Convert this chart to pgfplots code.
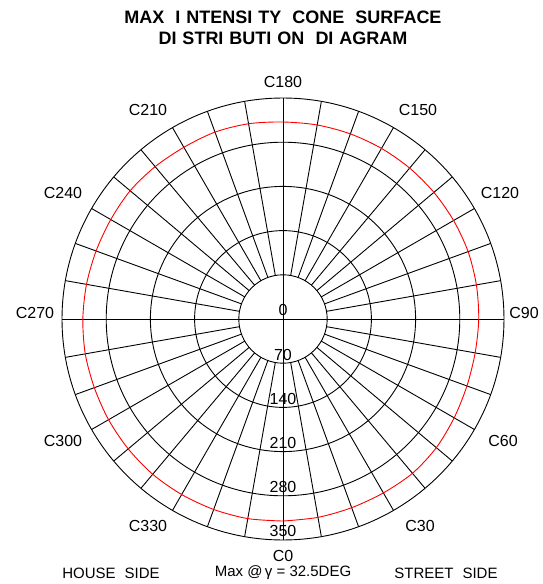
\documentclass[border=0pt]{standalone}
\usepackage{pgfplots}
\pgfplotsset{compat=1.18}
\usepackage{pgfplotstable}
\usepackage{fontspec}
\setmainfont{Liberation Sans}

\pgfplotstableread{
C r
0 320
10 319
20 318
30 318
40 319
50 317
60 313
70 310
80 309
90 310
100 311
110 312
120 312
130 312
140 312
150 312
160 312
170 312
180 312
190 314
200 315
210 314
220 315
230 316
240 315
250 315
260 316
270 317
280 318
290 318
300 319
310 320
320 321
330 321
340 321
350 321
360 320
}\conedata

\begin{document}
\begin{tikzpicture}
\useasboundingbox (-283pt,-265pt) rectangle (259pt,319pt);
\begin{axis}[
  hide axis, clip=false,
  x=0.6314pt, y=0.6314pt,
  xmin=-350, xmax=350, ymin=-350, ymax=350,
  anchor=origin, at={(0pt,0pt)},
]
% rings
\pgfplotsinvokeforeach{70,140,210,280,350}{
  \draw[line width=0.9pt] (axis cs:0,0) circle[radius=#1];
}
% spokes
\pgfplotsinvokeforeach{10,20,...,80,100,110,...,170,190,200,...,260,280,290,...,350}{
  \draw[line width=0.9pt] (axis cs:{70*cos(#1)},{70*sin(#1)}) -- (axis cs:{350*cos(#1)},{350*sin(#1)});
}
\draw[line width=0.9pt] (axis cs:-350,0) -- (axis cs:350,0);
\draw[line width=0.9pt] (axis cs:0,-350) -- (axis cs:0,350);
% red curve
\addplot[red, line width=0.9pt, no marks, smooth, data cs=polar] table[x expr=\thisrow{C}-90, y=r] {\conedata};
% ring labels
\pgfplotsinvokeforeach{0,70,140,210,280,350}{
  \node[font=\fontsize{16}{19}\selectfont, inner sep=0pt] at (axis cs:0,{-#1+13.5}) {#1};
}
\end{axis}
% angle labels
\begin{scope}[every node/.style={font=\fontsize{16}{19}\selectfont, inner sep=0pt}]
\node at (0pt,-237pt) {C0};
\node at (137pt,-207pt) {C30};
\node at (220pt,-122pt) {C60};
\node at (241pt,6pt) {C90};
\node at (217pt,126pt) {C120};
\node at (135pt,209pt) {C150};
\node at (0pt,237pt) {C180};
\node at (-135pt,209pt) {C210};
\node at (-220pt,126pt) {C240};
\node at (-248pt,6pt) {C270};
\node at (-220pt,-122pt) {C300};
\node at (-135pt,-207pt) {C330};
\end{scope}
% title
\node[font=\bfseries\fontsize{18}{21}\selectfont, inner sep=0pt] at (0pt,302pt) {MAX\hspace{11pt}I\hspace{6pt}NTENSI\hspace{6pt}TY\hspace{11pt}CONE\hspace{11pt}SURFACE};
\node[font=\bfseries\fontsize{18}{21}\selectfont, inner sep=0pt] at (0pt,281pt) {DI\hspace{6pt}STRI\hspace{6pt}BUTI\hspace{6pt}ON\hspace{11pt}DI\hspace{6pt}AGRAM};
% footer
\begin{scope}[every node/.style={font=\fontsize{15}{18}\selectfont, inner sep=0pt}]
\node at (-172pt,-254pt) {HOUSE\hspace{9pt}SIDE};
\node at (0pt,-254pt) {Max @$\,$γ = 32.5DEG};
\node at (163pt,-254pt) {STREET\hspace{9pt}SIDE};
\end{scope}
\end{tikzpicture}
\end{document}
